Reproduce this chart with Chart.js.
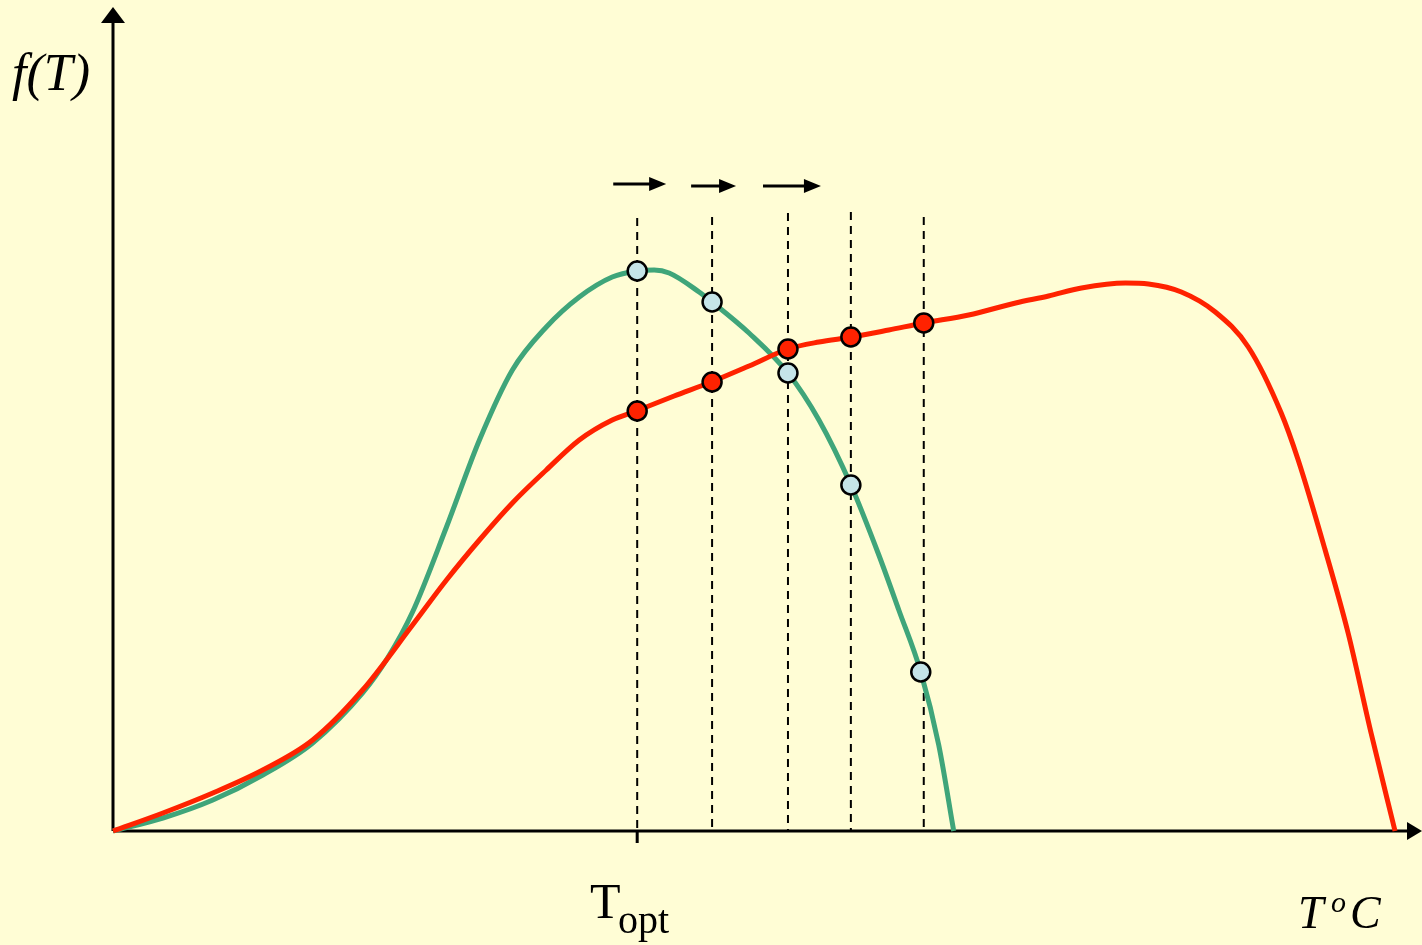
<!DOCTYPE html>
<html lang="en">
<head>
    <meta charset="UTF-8">
    <title>f(T)</title>
    <style>
        body { margin: 0; background: #FFFDD5; }
        #wrap { width: 1422px; height: 945px; }
    </style>
</head>
<body>
    <div id="wrap"><canvas id="myChart" width="1422" height="945"></canvas></div>
    <script src="https://cdn.jsdelivr.net/npm/chart.js"></script>
    <script>
        // curve samples (x = temperature, y = f(T))
        const greenX = [0, 5, 10, 15, 20, 25, 27.5, 30, 33.4, 36.7, 40, 43.4, 46.7, 50, 52.5, 54.2, 55.7, 58.7, 60, 63.7, 67.6, 70.7, 73.9, 76.7, 78.7, 80.9, 82.7, 84.2]
        const greenY = [0, 1.3, 3.1, 5.6, 8.8, 13.8, 17.3, 21.9, 30.4, 39.1, 46.1, 50.4, 53.4, 55.4, 56.0, 56.1, 55.8, 53.9, 52.9, 49.8, 45.8, 41.1, 34.6, 27.6, 22.1, 15.9, 8.6, 0]
        const redX = [0, 5, 10, 15, 20, 25, 30, 33.4, 36.7, 40, 43.4, 46.7, 50, 52.4, 56.2, 59.9, 63.7, 67.6, 70.7, 74, 77.7, 81.2, 85.7, 90.4, 93.7, 97, 101.4, 103.7, 107, 110.4, 113.7, 117, 118.7, 121.4, 123.7, 126, 128.4]
        const redY = [0, 1.8, 3.8, 6.1, 9.1, 14.1, 20.6, 25.1, 29.1, 32.8, 36.1, 39.1, 41.1, 42.0, 43.5, 44.9, 46.5, 48.2, 48.9, 49.4, 50.1, 50.8, 51.6, 52.8, 53.5, 54.3, 54.8, 54.7, 53.9, 51.9, 48.4, 41.8, 37.1, 28.1, 19.8, 9.8, 0]

        // marked points and dashed guides
        const guideX = [52.5, 60, 67.6, 73.9, 81.2]
        const guideTop = [61.3, 61.4, 61.8, 61.9, 61.4]
        const greenDotX = [52.5, 60, 67.6, 73.9, 80.9]
        const greenDotY = [56.0, 52.9, 45.8, 34.6, 15.9]
        const redDotY = [42.0, 44.9, 48.2, 49.4, 50.8]

        // shift arrows above the guides
        const arrowFrom = [50.1, 57.9, 65.1]
        const arrowTo = [55.4, 62.4, 70.9]
        const arrowY = [64.7, 64.5, 64.5]

        const xMax = 130.9, yMax = 82.3
        const toPts = (xs, ys) => xs.map((x, i) => ({x: x, y: ys[i]}))

        const datasets = []
        guideX.forEach((x, i) => {
            datasets.push({
                data: [{x: x, y: guideTop[i]}, {x: x, y: 0}],
                borderColor: '#000', borderWidth: 2, borderDash: [8, 6],
                pointRadius: 0, clip: false, order: 5
            })
        })
        datasets.push({
            data: toPts(greenX, greenY),
            borderColor: '#3FA57A', borderWidth: 5, pointRadius: 0,
            cubicInterpolationMode: 'monotone', clip: false, order: 4
        })
        datasets.push({
            data: toPts(redX, redY),
            borderColor: '#FF2200', borderWidth: 5, pointRadius: 0,
            cubicInterpolationMode: 'monotone', clip: false, order: 3
        })
        datasets.push({
            data: toPts(greenDotX, greenDotY), showLine: false,
            pointRadius: 9.5, pointBackgroundColor: '#C5E4E8', pointBorderColor: '#000',
            pointBorderWidth: 2.5, clip: false, order: 2
        })
        datasets.push({
            data: toPts(guideX, redDotY), showLine: false,
            pointRadius: 9.5, pointBackgroundColor: '#FF2200', pointBorderColor: '#000',
            pointBorderWidth: 2.5, clip: false, order: 1
        })

        const axesPlugin = {
            id: 'axes',
            beforeDatasetsDraw(chart) {
                const ctx = chart.ctx, xs = chart.scales.x, ys = chart.scales.y
                const x0 = xs.getPixelForValue(0), y0 = ys.getPixelForValue(0)
                ctx.save()
                ctx.strokeStyle = '#000'; ctx.fillStyle = '#000'; ctx.lineWidth = 3
                ctx.beginPath()
                ctx.moveTo(x0, y0); ctx.lineTo(x0, 20)
                ctx.moveTo(x0, y0); ctx.lineTo(1410, y0)
                // T_opt tick
                const tx = xs.getPixelForValue(guideX[0])
                ctx.moveTo(tx, y0); ctx.lineTo(tx, y0 + 12)
                ctx.stroke()
                ctx.beginPath()
                ctx.moveTo(x0, 7); ctx.lineTo(x0 - 12, 23); ctx.lineTo(x0 + 12, 23); ctx.closePath()
                ctx.fill()
                ctx.beginPath()
                ctx.moveTo(1422, y0); ctx.lineTo(1407, y0 - 9); ctx.lineTo(1407, y0 + 9); ctx.closePath()
                ctx.fill()
                ctx.restore()
            },
            afterDraw(chart) {
                const ctx = chart.ctx, xs = chart.scales.x, ys = chart.scales.y
                ctx.save()
                ctx.fillStyle = '#000'; ctx.strokeStyle = '#000'; ctx.lineWidth = 3
                arrowFrom.forEach((a, i) => {
                    const x1 = xs.getPixelForValue(a), x2 = xs.getPixelForValue(arrowTo[i])
                    const y = ys.getPixelForValue(arrowY[i])
                    ctx.beginPath(); ctx.moveTo(x1, y); ctx.lineTo(x2 - 12, y); ctx.stroke()
                    ctx.beginPath(); ctx.moveTo(x2, y); ctx.lineTo(x2 - 17, y - 7); ctx.lineTo(x2 - 17, y + 7); ctx.closePath(); ctx.fill()
                })
                ctx.textBaseline = 'alphabetic'
                ctx.font = 'italic 52px "Liberation Serif"'
                ctx.fillText('f(T)', 12, 90)
                ctx.font = '50px "Liberation Serif"'
                ctx.fillText('T', 590, 918)
                ctx.font = '40px "Liberation Serif"'
                ctx.fillText('opt', 618, 933)
                ctx.font = 'italic 46px "Liberation Serif"'
                ctx.fillText('T', 1298, 928)
                ctx.fillText('C', 1350, 928)
                ctx.font = 'italic 30px "Liberation Serif"'
                ctx.fillText('o', 1331, 912)
                ctx.restore()
            }
        }

        const config = {
            type: 'line',
            data: { datasets: datasets },
            options: {
                responsive: false,
                animation: false,
                layout: { autoPadding: false, padding: { left: 113, right: 2, top: 8, bottom: 114 } },
                scales: {
                    x: { type: 'linear', min: 0, max: xMax, display: false },
                    y: { type: 'linear', min: 0, max: yMax, display: false }
                },
                plugins: { legend: { display: false }, tooltip: { enabled: false } }
            },
            plugins: [axesPlugin]
        }
        const chart = new Chart(document.getElementById('myChart'), config)
    </script>
</body>
</html>
